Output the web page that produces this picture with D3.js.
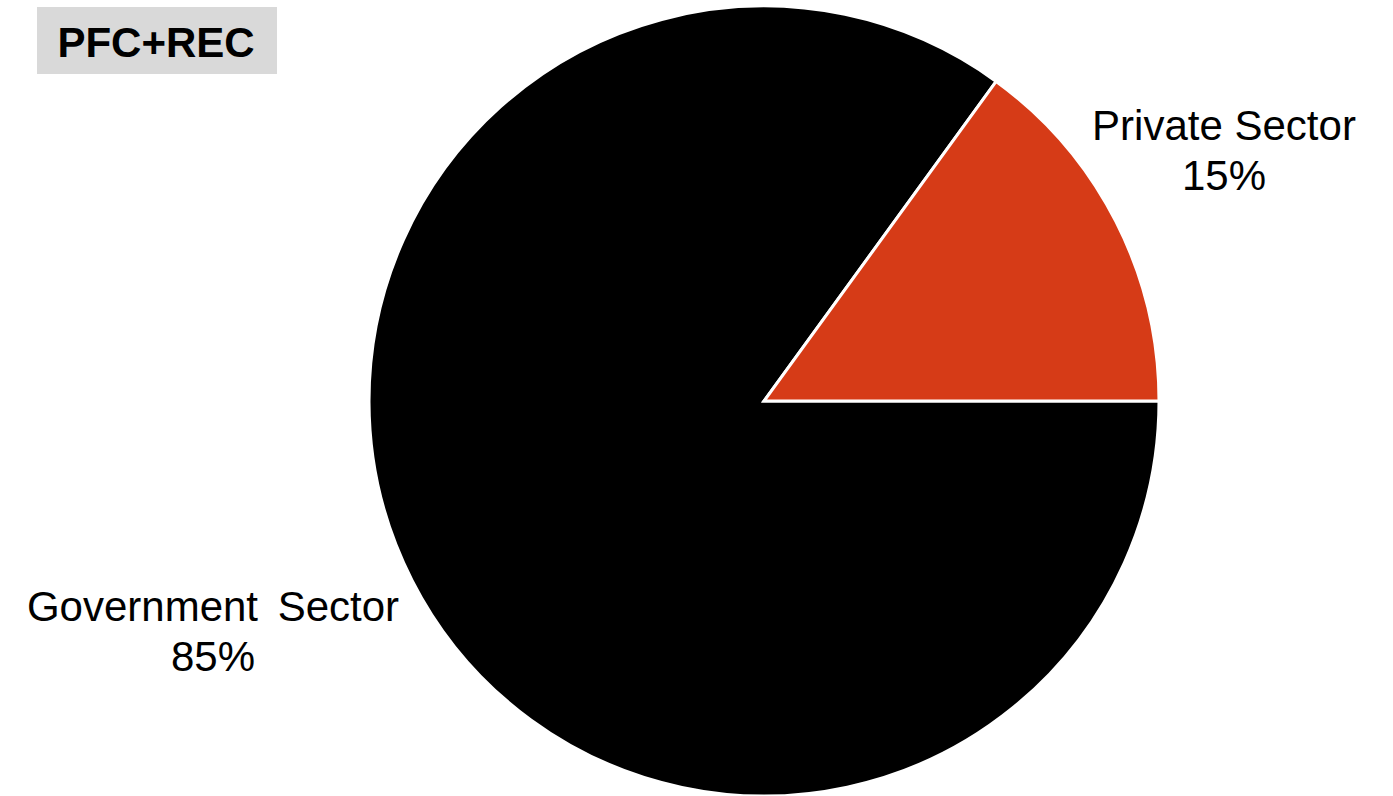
<!DOCTYPE html>
<html>
<head>
<meta charset="utf-8">
<script src="https://cdn.jsdelivr.net/npm/d3@7"></script>
<style>
  html, body { margin: 0; padding: 0; background: #fff; }
  svg { display: block; }
  text { font-family: "Liberation Sans", Arial, sans-serif; fill: #000; }
</style>
</head>
<body>
<svg id="chart" width="1393" height="796"></svg>
<script>
// Share of lending by borrower sector
const sectors = ["Government Sector", "Private Sector"];
const shares = [85, 15];
const colors = ["#000000", "#D63B17"];
const title = "PFC+REC";

const svg = d3.select("#chart");
const cx = 764, cy = 401, radius = 395;

// Slices start at 3 o'clock and run clockwise
const pie = d3.pie()
  .sort(null)
  .value(d => d)
  .startAngle(Math.PI / 2)
  .endAngle(Math.PI / 2 + 2 * Math.PI);

const arc = d3.arc().innerRadius(0).outerRadius(radius);

const g = svg.append("g").attr("transform", `translate(${cx},${cy})`);
g.selectAll("path")
  .data(pie(shares))
  .join("path")
  .attr("d", arc)
  .attr("fill", (d, i) => colors[i])
  .attr("stroke", "#fff")
  .attr("stroke-width", 3)
  .attr("stroke-linejoin", "miter");

// Slice labels: name on first line, percentage below
const labelPos = [
  { x: 213, y: 621 },
  { x: 1224, y: 140 }
];
const labels = svg.selectAll("g.label")
  .data(sectors)
  .join("g")
  .attr("class", "label")
  .attr("transform", (d, i) => `translate(${labelPos[i].x},${labelPos[i].y})`);

labels.append("text")
  .attr("text-anchor", "middle")
  .attr("font-size", 42)
  .attr("word-spacing", (d, i) => i === 0 ? 8 : 0)
  .text(d => d);

labels.append("text")
  .attr("text-anchor", "middle")
  .attr("font-size", 42)
  .attr("y", 50)
  .text((d, i) => shares[i] + "%");

// Title badge
svg.append("rect")
  .attr("x", 37).attr("y", 7)
  .attr("width", 240).attr("height", 67)
  .attr("fill", "#D9D9D9");
svg.append("text")
  .attr("x", 156).attr("y", 57)
  .attr("text-anchor", "middle")
  .attr("font-size", 42)
  .attr("font-weight", "bold")
  .text(title);
</script>
</body>
</html>
